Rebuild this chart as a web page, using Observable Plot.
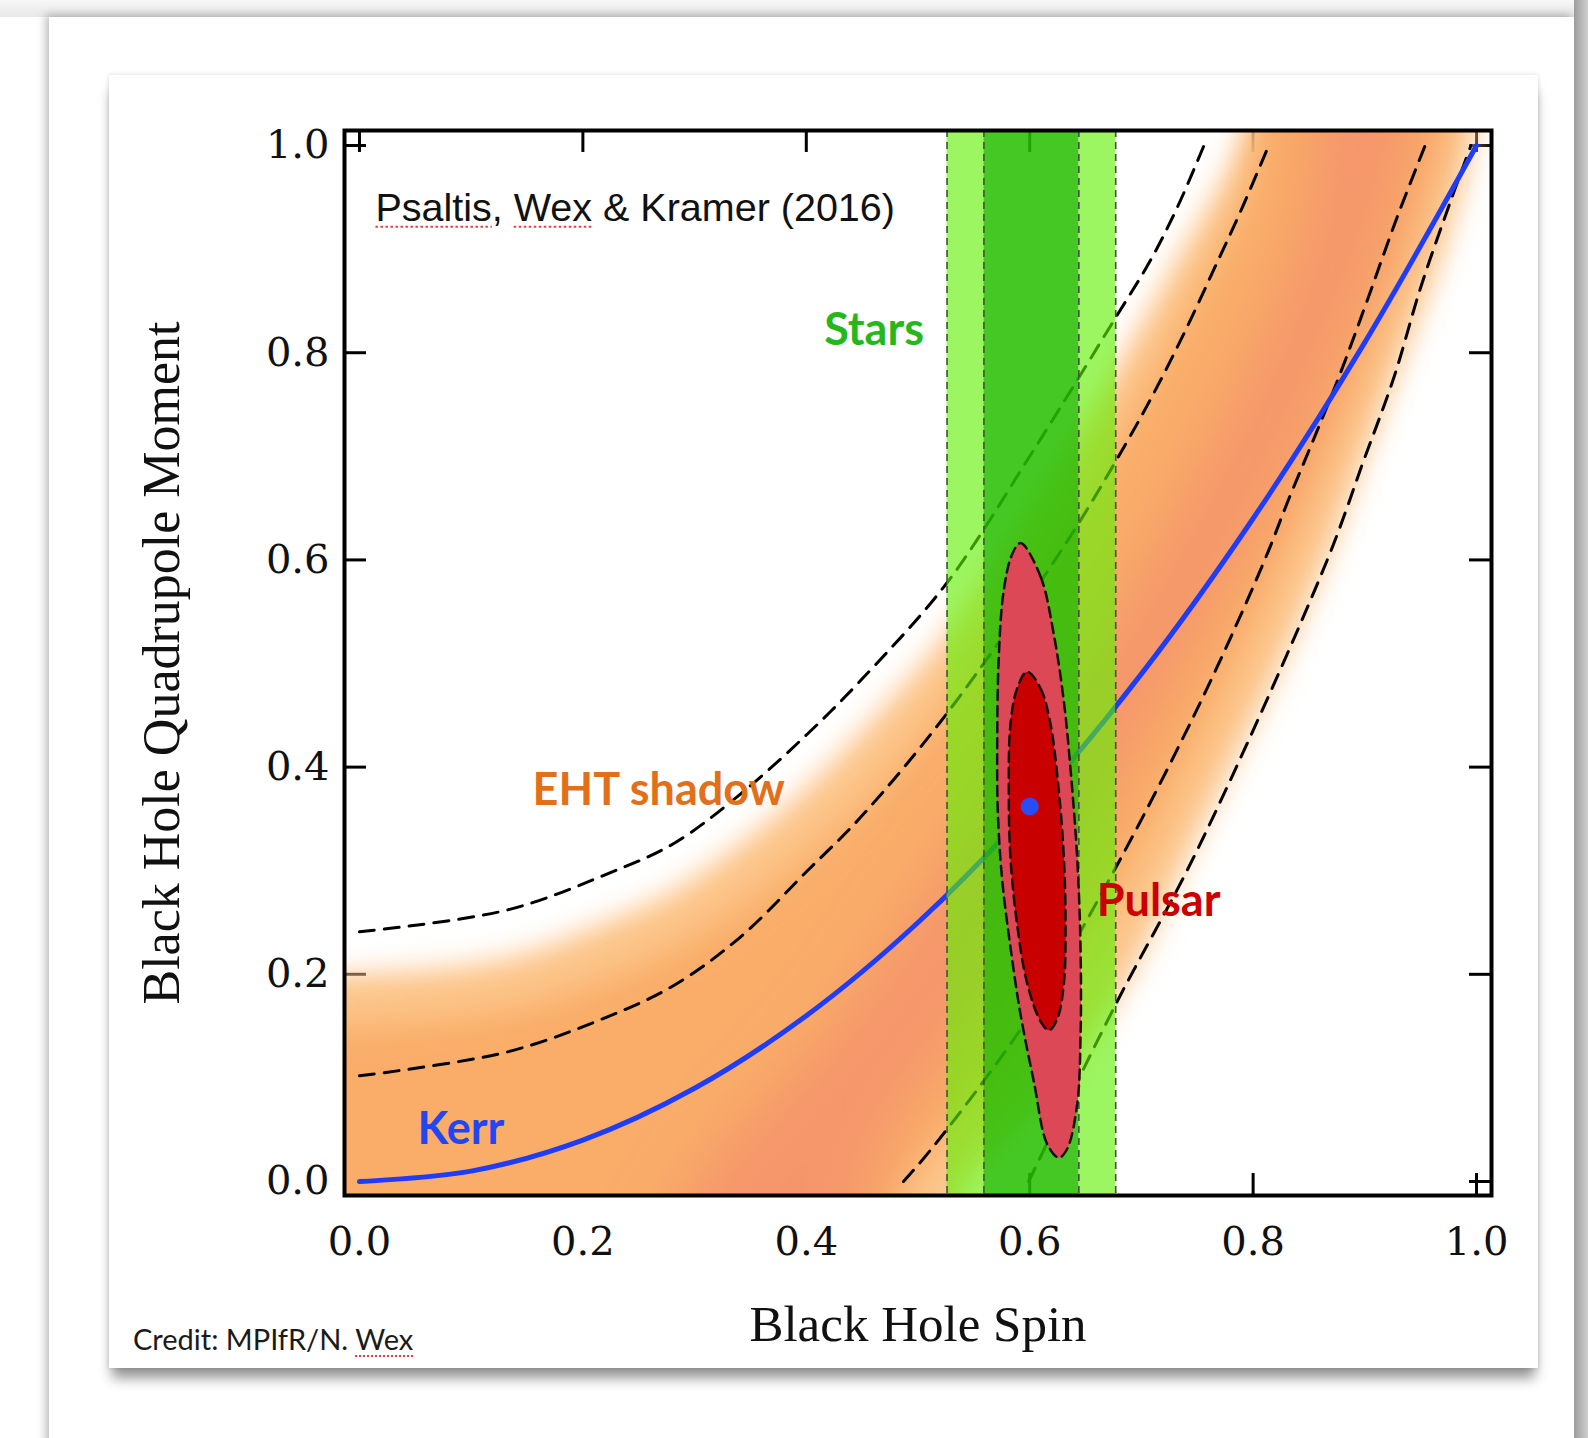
<!DOCTYPE html>
<html><head><meta charset="utf-8">
<script src="https://cdn.jsdelivr.net/npm/d3@7"></script>
<script src="https://cdn.jsdelivr.net/npm/@observablehq/plot@0.6"></script>
<style>
html,body{margin:0;padding:0;}
body{width:1588px;height:1438px;position:relative;overflow:hidden;background:#fff;}
#top{position:absolute;left:0;top:0;width:1588px;height:17px;background:linear-gradient(#f7f7f7,#e8e8e8);}
#right{position:absolute;left:1574px;top:0;width:14px;height:1438px;background:linear-gradient(to right,#9c9c9c,#cfcfcf);}
#outer{position:absolute;left:49px;top:17px;width:1525px;height:1460px;background:#fff;box-shadow:-3px -2px 9px rgba(0,0,0,0.28);}
#inner{position:absolute;left:109px;top:75px;width:1429px;height:1293px;background:#fff;box-shadow:0 13px 12px -3px rgba(0,0,0,0.42),0 0 5px rgba(0,0,0,0.15);}
#chart{position:absolute;left:0;top:0;}
#credit{position:absolute;left:24px;top:1249px;font:29px Lato,sans-serif;color:#1a1a1a;line-height:1;}
.sq{text-decoration:underline dotted #e8413c;text-decoration-thickness:2px;text-underline-offset:5px;}
</style></head>
<body>
<div id="top"></div>
<div id="outer"></div>
<div id="right"></div>
<div id="inner">
  <div id="chart"></div>
  <div id="credit">Credit: MPIfR/N. <span class="sq">Wex</span></div>
</div>
<script>
// ---------- data ----------
const tickValues = [0, 0.2, 0.4, 0.6, 0.8, 1.0];

// Kerr relation (spin, quadrupole)
const kerrSpin = [0, 0.1, 0.2, 0.3, 0.4, 0.5, 0.6, 0.7, 0.8, 0.9, 1.0];
const kerrQuad = [0, 0.01, 0.04, 0.09, 0.16, 0.25, 0.36, 0.49, 0.64, 0.81, 1.0];

// EHT shadow contours (dashed)
const ehtUpperOuterSpin = [0, 0.132, 0.222, 0.281, 0.341, 0.401, 0.449, 0.526, 0.600, 0.677, 0.708, 0.732, 0.756];
const ehtUpperOuterQuad = [0.241, 0.262, 0.297, 0.326, 0.374, 0.432, 0.484, 0.578, 0.700, 0.834, 0.889, 0.940, 1.0];
const ehtUpperInnerSpin = [0, 0.132, 0.222, 0.281, 0.341, 0.401, 0.449, 0.526, 0.630, 0.686, 0.714, 0.741, 0.766, 0.789, 0.814];
const ehtUpperInnerQuad = [0.102, 0.125, 0.159, 0.189, 0.236, 0.300, 0.352, 0.452, 0.612, 0.712, 0.767, 0.825, 0.883, 0.937, 1.0];
const ehtLowerInnerSpin = [0.487, 0.514, 0.600, 0.675, 0.753, 0.810, 0.832, 0.854, 0.878, 0.902, 0.929, 0.954];
const ehtLowerInnerQuad = [0.0, 0.034, 0.160, 0.299, 0.463, 0.599, 0.659, 0.716, 0.780, 0.850, 0.931, 1.0];
const ehtLowerOuterSpin = [0.599, 0.677, 0.750, 0.866, 0.899, 0.926, 0.950, 0.977, 0.995];
const ehtLowerOuterQuad = [0.0, 0.171, 0.320, 0.599, 0.696, 0.776, 0.863, 0.947, 1.0];

// EHT likelihood shading: boundaries of three intensity levels
const heatPaleLeftSpin  = [-0.3, -0.3, 0.0, 0.13, 0.22, 0.28, 0.34, 0.40, 0.45, 0.526, 0.60, 0.677, 0.74, 0.775, 0.80, 0.82];
const heatPaleLeftQuad  = [-0.2, 0.19, 0.20, 0.215, 0.25, 0.28, 0.325, 0.38, 0.435, 0.53, 0.65, 0.785, 0.905, 0.97, 1.03, 1.1];
const heatPaleRightSpin = [1.0, 0.995, 0.97, 0.935, 0.90, 0.865, 0.825, 0.78, 0.735, 0.69, 0.63, 0.545, 0.50];
const heatPaleRightQuad = [1.1, 1.0, 0.9, 0.8, 0.7, 0.6, 0.5, 0.4, 0.3, 0.2, 0.1, 0.0, -0.1];

const heatMidLeftSpin  = [-0.3, -0.3, 0.0, 0.13, 0.22, 0.28, 0.34, 0.40, 0.45, 0.526, 0.63, 0.69, 0.74, 0.79, 0.83];
const heatMidLeftQuad  = [-0.2, 0.14, 0.15, 0.165, 0.195, 0.225, 0.265, 0.315, 0.365, 0.46, 0.63, 0.74, 0.84, 0.95, 1.1];
const heatMidRightSpin = [0.975, 0.965, 0.935, 0.90, 0.863, 0.825, 0.783, 0.738, 0.69, 0.63, 0.57, 0.49, 0.44];
const heatMidRightQuad = [1.1, 1.0, 0.9, 0.8, 0.7, 0.6, 0.5, 0.4, 0.3, 0.2, 0.1, 0.0, -0.1];

const heatCoreLeftSpin  = [0.22, 0.30, 0.42, 0.55, 0.66, 0.74, 0.80, 0.845, 0.87];
const heatCoreLeftQuad  = [-0.2, 0.0, 0.15, 0.35, 0.52, 0.67, 0.80, 0.93, 1.1];
const heatCoreRightSpin = [0.95, 0.925, 0.88, 0.825, 0.75, 0.66, 0.56, 0.47, 0.42];
const heatCoreRightQuad = [1.1, 0.93, 0.80, 0.67, 0.52, 0.35, 0.17, 0.03, -0.2];

// Stars (S-stars) spin bands
const stars95 = [0.526, 0.677];
const stars68 = [0.559, 0.644];

// Pulsar contours
const pulsar95Spin = [0.5918, 0.6097, 0.6216, 0.6306, 0.6365, 0.6425, 0.6455, 0.6455, 0.6425, 0.6336, 0.6261, 0.6157, 0.6037, 0.5918, 0.5828, 0.5754, 0.5715, 0.5709, 0.5723, 0.5768, 0.5843];
const pulsar95Quad = [0.6163, 0.5840, 0.5279, 0.4631, 0.3985, 0.3122, 0.2259, 0.1396, 0.0748, 0.0316, 0.0230, 0.0359, 0.0964, 0.1611, 0.2259, 0.2905, 0.3553, 0.4200, 0.5063, 0.5710, 0.6056];
const pulsar68Spin = [0.5977, 0.6097, 0.6186, 0.6261, 0.6306, 0.6321, 0.6306, 0.6246, 0.6171, 0.6097, 0.5977, 0.5888, 0.5828, 0.5813, 0.5828, 0.5888];
const pulsar68Quad = [0.4921, 0.4761, 0.4416, 0.3768, 0.3122, 0.2474, 0.1913, 0.1568, 0.1460, 0.1546, 0.1913, 0.2474, 0.3122, 0.3768, 0.4416, 0.4761];
const bestSpin = [0.600];
const bestQuad = [0.362];

// Labels
const labelNames = ["Stars", "EHT shadow", "Pulsar", "Kerr"];
const labelSpin  = [0.416, 0.155, 0.660, 0.052];
const labelQuad  = [0.821, 0.377, 0.270, 0.050];
const labelColors = ["#25b81d", "#e2701a", "#cc0000", "#2346f0"];
const annotation = "Psaltis, Wex & Kramer (2016)";
const xTitle = "Black Hole Spin";
const yTitle = "Black Hole Quadrupole Moment";

// ---------- build ----------
const X0 = -0.0134, X1 = 1.0134, Y0 = -0.0135, Y1 = 1.0145;
const TX = 0.0197, TY = 0.0212;
const pts = (s, q) => s.map((a, i) => ({a, q: q[i]}));
const poly = (ls, lq, rs, rq) => [...pts(ls, lq), ...pts(rs, rq)];

const heatPale = poly(heatPaleLeftSpin, heatPaleLeftQuad, heatPaleRightSpin, heatPaleRightQuad);
const heatMid = poly(heatMidLeftSpin, heatMidLeftQuad, heatMidRightSpin, heatMidRightQuad);
const heatCore = poly(heatCoreLeftSpin, heatCoreLeftQuad, heatCoreRightSpin, heatCoreRightQuad);
const C1 = "#fcc589", C2 = "#f9ad69", C3 = "#f5966a";

const kerr = pts(kerrSpin, kerrQuad);
const dashed = [
  pts(ehtUpperOuterSpin, ehtUpperOuterQuad),
  pts(ehtUpperInnerSpin, ehtUpperInnerQuad),
  pts(ehtLowerInnerSpin, ehtLowerInnerQuad),
  pts(ehtLowerOuterSpin, ehtLowerOuterQuad)
];
const labels = labelNames.map((t, i) => ({t, a: labelSpin[i], q: labelQuad[i], c: labelColors[i]}));
const lightStrips = [[stars95[0], stars68[0]], [stars68[1], stars95[1]]];

const chart = Plot.plot({
  width: 1429, height: 1293,
  marginLeft: 235, marginRight: 47, marginTop: 55, marginBottom: 173,
  x: {domain: [X0, X1], axis: null},
  y: {domain: [Y0, Y1], axis: null},
  style: {background: "transparent", overflow: "visible"},
  marks: [
    // inward ticks
    Plot.ruleX(tickValues, {x: d => d, y1: Y0, y2: Y0 + TY, stroke: "#000", strokeWidth: 3}),
    Plot.ruleX(tickValues, {x: d => d, y1: Y1 - TY, y2: Y1, stroke: "#000", strokeWidth: 3}),
    Plot.ruleY(tickValues, {y: d => d, x1: X0, x2: X0 + TX, stroke: "#000", strokeWidth: 3}),
    Plot.ruleY(tickValues, {y: d => d, x1: X1 - TX, x2: X1, stroke: "#000", strokeWidth: 3}),
    // EHT shading
    Plot.line(heatPale, {x: "a", y: "q", fill: C1, stroke: "none", curve: "catmull-rom-closed", clip: true}),
    Plot.line(heatMid, {x: "a", y: "q", fill: C2, stroke: "none", curve: "catmull-rom-closed", clip: true}),
    Plot.line(heatCore, {x: "a", y: "q", fill: C3, stroke: "none", curve: "catmull-rom-closed", clip: true}),
    // EHT contours
    ...dashed.map(d => Plot.line(d, {x: "a", y: "q", stroke: "#000", strokeWidth: 3, strokeDasharray: "15,10", curve: "catmull-rom"})),
    // Kerr
    Plot.line(kerr, {x: "a", y: "q", stroke: "#1f3cf6", strokeWidth: 5, curve: "catmull-rom"}),
    // Stars bands
    Plot.rect(lightStrips, {x1: d => d[0], x2: d => d[1], y1: Y0, y2: Y1, fill: "rgb(96,240,0)", fillOpacity: 0.62}),
    Plot.rect([stars68], {x1: d => d[0], x2: d => d[1], y1: Y0, y2: Y1, fill: "rgb(40,191,0)", fillOpacity: 0.86}),
    Plot.ruleX([...stars95, ...stars68], {x: d => d, stroke: "#4a4a4a", strokeWidth: 1.6, strokeDasharray: "7,5"}),
    // Pulsar
    Plot.line(pts(pulsar95Spin, pulsar95Quad), {x: "a", y: "q", fill: "#dc4856", stroke: "#111", strokeWidth: 2.5, strokeDasharray: "10,6", curve: "catmull-rom-closed"}),
    Plot.line(pts(pulsar68Spin, pulsar68Quad), {x: "a", y: "q", fill: "#c80000", stroke: "#111", strokeWidth: 2.5, strokeDasharray: "10,6", curve: "catmull-rom-closed"}),
    Plot.dot(pts(bestSpin, bestQuad), {x: "a", y: "q", r: 9, fill: "#2a4cf5", stroke: "none"}),
    // labels
    Plot.text(labels, {x: "a", y: "q", text: "t", fill: "c", textAnchor: "start", lineAnchor: "middle", fontFamily: "Lato", fontWeight: "bold", fontSize: 45}),
    Plot.text([annotation], {x: 0.0143, y: 0.9397, text: d => d, textAnchor: "start", lineAnchor: "middle", fontFamily: "Liberation Sans", fontSize: 39.5, fill: "#111"}),
    // tick labels
    Plot.text(tickValues, {x: d => d, y: Y0, dy: 47, text: d => d.toFixed(1), lineAnchor: "middle", fontFamily: "DejaVu Serif", fontSize: 40, fill: "#111"}),
    Plot.text(tickValues, {x: X0, y: d => d, dx: -15, text: d => d.toFixed(1), textAnchor: "end", lineAnchor: "middle", fontFamily: "DejaVu Serif", fontSize: 40, fill: "#111"}),
    // axis titles
    Plot.text([xTitle], {frameAnchor: "bottom", dy: 129, text: d => d, textAnchor: "middle", lineAnchor: "middle", fontFamily: "Liberation Serif", fontSize: 51, fill: "#111"}),
    Plot.text([yTitle], {frameAnchor: "left", dx: -182, rotate: -90, text: d => d, textAnchor: "middle", lineAnchor: "middle", fontFamily: "Liberation Serif", fontSize: 52, fill: "#111"}),
    Plot.frame({stroke: "#000", strokeWidth: 4})
  ]
});
document.getElementById("chart").appendChild(chart);

// soft edges for the shading
const ns = "http://www.w3.org/2000/svg";
const svg = chart.tagName.toLowerCase() === "svg" ? chart : chart.querySelector("svg");
const defs = document.createElementNS(ns, "defs");
[["blurA", 14], ["blurB", 16], ["blurC", 28]].forEach(([id, s]) => {
  const f = document.createElementNS(ns, "filter");
  f.setAttribute("id", id);
  f.setAttribute("filterUnits", "userSpaceOnUse");
  f.setAttribute("x", -200); f.setAttribute("y", -200);
  f.setAttribute("width", 2000); f.setAttribute("height", 1800);
  const g = document.createElementNS(ns, "feGaussianBlur");
  g.setAttribute("stdDeviation", s);
  f.appendChild(g);
  defs.appendChild(f);
});
svg.insertBefore(defs, svg.firstChild);
const fmap = {[C1]: "blurA", [C2]: "blurB", [C3]: "blurC"};
svg.querySelectorAll("g[fill]").forEach(g => {
  const c = (g.getAttribute("fill") || "").toLowerCase();
  if (fmap[c]) {
    const path = g.querySelector("path");
    (path || g).setAttribute("filter", `url(#${fmap[c]})`);
  }
});

// red dotted spell-check underline in annotation
const t = [...svg.querySelectorAll("text")].find(e => e.textContent === annotation);
if (t) {
  const under = (i0, i1) => {
    const p0 = t.getStartPositionOfChar(i0), p1 = t.getEndPositionOfChar(i1);
    const l = document.createElementNS(ns, "line");
    l.setAttribute("x1", p0.x); l.setAttribute("x2", p1.x);
    l.setAttribute("y1", p0.y + 6); l.setAttribute("y2", p0.y + 6);
    l.setAttribute("stroke", "#e8413c"); l.setAttribute("stroke-width", 2);
    l.setAttribute("stroke-dasharray", "2.5,2.5");
    if (t.getAttribute("transform")) l.setAttribute("transform", t.getAttribute("transform"));
    t.parentNode.appendChild(l);
  };
  under(0, 6); under(9, 11);
}
</script>
</body></html>
